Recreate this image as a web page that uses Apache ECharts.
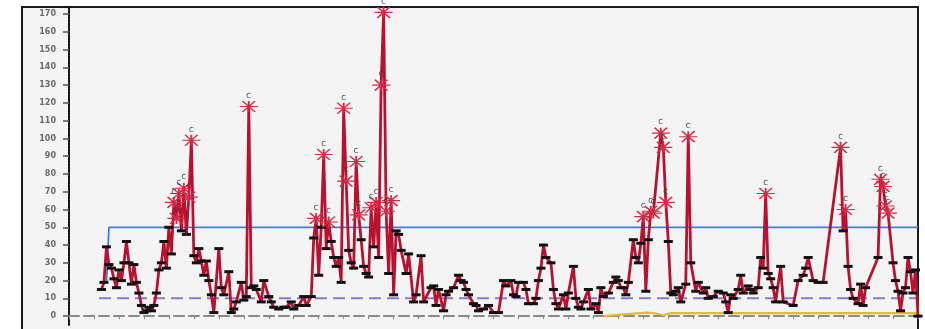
<!DOCTYPE html>
<html>
<head>
<meta charset="utf-8">
<script src="https://cdn.jsdelivr.net/npm/echarts@6/dist/echarts.min.js"></script>
<style>
  html, body { margin: 0; padding: 0; background: #ffffff; }
  #chart { width: 925px; height: 329px; }
</style>
</head>
<body>
<div id="chart"></div>
<script>
// Daily measurements (day of period, value)
const days = [13,14,15,16,17,18,19,20,21,22,23,24,25,26,27,28,29,30,31,32,33,34,35,36,37,38,39,40,41,42,43,44,45,46,47,48,49,50,51,52,53,54,55,56,57,58,
  60,61,62,64,65,66,67,69,70,71,72,73,74,75,77,78,80,81,82,84,86,87,89,90,92,94,95,97,98,99,100,101,102,103,104,105,106,107,108,109,110,111,112,113,114,115,116,117,118,119,120,121,122,123,124,125,126,127,128,129,130,131,132,133,135,136,138,139,141,142,
  145,146,147,148,150,151,152,154,156,157,158,159,160,162,163,164,166,168,170,172,174,175,177,178,179,180,182,183,184,186,187,188,189,190,191,193,194,195,196,198,199,200,202,203,204,205,206,208,209,211,212,213,214,216,218,219,220,221,222,223,224,226,227,228,229,230,231,232,233,234,237,238,239,240,241,242,243,244,245,247,248,249,251,252,254,255,256,258,260,262,263,264,265,266,268,269,270,272,273,274,276,277,278,279,280,281,282,283,285,286,290,292,294,295,296,298,300,302,309,310,311,312,313,314,316,317,318,319,324,325,326,327,328,330,331,332,333,334,335,336,337,338,339,340];
const values = [15,19,39,29,27,21,16,26,20,30,42,30,18,29,19,13,6,2,3,5,3,6,13,26,30,42,27,50,35,64,55,69,48,72,46,67,99,34,30,38,31,23,31,20,12,2,
  38,16,12,25,2,4,8,19,9,11,118,16,17,15,8,20,11,8,5,4,5,5,8,4,6,11,6,11,44,55,23,50,91,38,53,42,33,28,33,19,117,76,37,30,27,87,57,43,28,24,22,61,39,64,33,130,171,59,24,65,12,48,46,37,24,35,8,12,34,8,
  16,17,6,15,3,12,14,16,23,20,19,15,12,7,6,3,4,6,2,2,20,17,20,12,11,19,19,15,7,7,10,20,27,40,33,30,15,7,4,12,4,13,28,10,5,4,8,15,4,7,2,16,11,13,19,22,20,16,16,12,19,43,33,30,41,56,14,43,59,58,103,95,64,42,13,12,14,16,8,18,101,30,14,19,13,16,10,11,14,13,8,2,12,10,15,23,13,17,15,13,16,33,27,69,24,21,16,8,28,8,6,20,23,27,33,20,19,19,95,48,60,28,15,10,7,18,6,16,33,77,73,62,58,30,20,14,3,13,16,33,25,13,26,0];

// Upper limit, centre line and lower limit
const upperDays = [15, 16, 340];
const upperValues = [19, 50, 50];
const centreDays = [12, 340];
const centreValues = [10, 10];
const lowerDays = [214, 231, 235, 238, 241, 340];
const lowerValues = [0, 2, 1.5, 0.5, 1.7, 1.7];

const yTicks = [0,10,20,30,40,50,60,70,80,90,100,110,120,130,140,150,160,170];
const limit = 50;
const flagText = 'C';

const pairs = (xs, ys) => xs.map((x, i) => [x, ys[i]]);

// Asterisk used for points above the upper limit
const starPath = 'path://M0,5 L20,5 M3,0 L17,10 M3,10 L17,0 M10,0 L10,10';

const mainData = days.map((d, i) => {
  const v = values[i];
  if (v > limit) {
    return {
      value: [d, v],
      symbol: starPath,
      symbolSize: [18, 11],
      itemStyle: { color: '#d42a44', borderColor: '#d42a44', borderWidth: 1.4 },
      label: { show: true, formatter: flagText }
    };
  }
  return { value: [d, v] };
});

const chart = echarts.init(document.getElementById('chart'), null, { renderer: 'canvas' });
chart.setOption({
  backgroundColor: '#ffffff',
  animation: false,
  graphic: [{
    type: 'rect',
    z: -10,
    shape: { x: 22, y: 7, width: 896, height: 340 },
    style: { fill: '#f4f4f4', stroke: '#1a1a1a', lineWidth: 2 }
  }],
  grid: { left: 69, right: 7, top: 7, bottom: 4, containLabel: false },
  xAxis: {
    type: 'value',
    min: 0,
    max: 340,
    interval: 10,
    axisLine: { show: true, lineStyle: { color: '#8a8a8a', width: 2, type: [10, 5] } },
    axisTick: { show: true, length: 3, lineStyle: { color: '#8a8a8a' } },
    axisLabel: { show: false },
    splitLine: { show: false }
  },
  yAxis: {
    type: 'value',
    min: -5,
    max: 174,
    axisLine: { show: true, lineStyle: { color: '#111', width: 2, type: [2, 1] } },
    axisTick: { show: true, length: 6, customValues: yTicks, lineStyle: { color: '#555', width: 1.5 } },
    axisLabel: {
      customValues: yTicks,
      margin: 13,
      fontSize: 8,
      fontWeight: 'bold',
      color: '#6a6a6a',
      fontFamily: 'DejaVu Sans'
    },
    splitLine: { show: false }
  },
  series: [
    {
      name: 'centre',
      type: 'line',
      data: pairs(centreDays, centreValues),
      symbol: 'none',
      lineStyle: { color: '#8878cc', width: 2, type: [12, 6] },
      z: 1
    },
    {
      name: 'upper',
      type: 'line',
      data: pairs(upperDays, upperValues),
      symbol: 'none',
      lineStyle: { color: '#3d7fd8', width: 1.8 },
      z: 1
    },
    {
      name: 'lower',
      type: 'line',
      data: pairs(lowerDays, lowerValues),
      symbol: 'none',
      lineStyle: { color: '#e0bd30', width: 2.2 },
      z: 1
    },
    {
      name: 'measure',
      type: 'line',
      data: mainData,
      symbol: 'rect',
      symbolSize: [9, 3],
      itemStyle: { color: '#111' },
      lineStyle: { color: '#b81230', width: 2.8 },
      label: {
        show: false,
        position: 'top',
        distance: 1,
        fontSize: 7,
        color: '#444',
        fontFamily: 'DejaVu Sans'
      },
      z: 3
    }
  ]
});
</script>
</body>
</html>
